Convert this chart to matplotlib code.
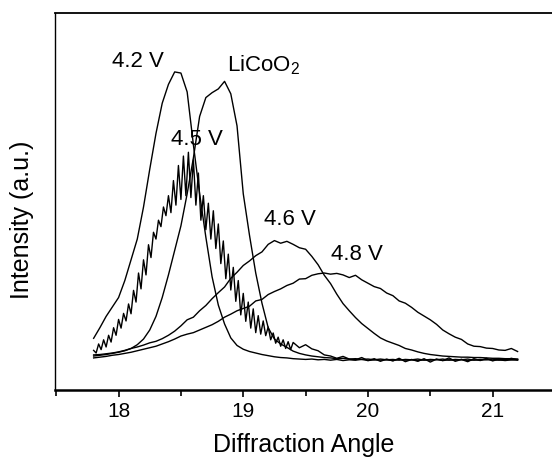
import matplotlib
matplotlib.use("Agg")
import matplotlib.pyplot as plt
from matplotlib.ticker import MultipleLocator

plt.rcParams['font.family'] = ['Liberation Sans', 'DejaVu Sans']
plt.rcParams['mathtext.fontset'] = 'custom'
plt.rcParams['mathtext.rm'] = 'Liberation Sans'

# diffraction angle grid (deg) shared by the smooth scans
angle = [17.80, 17.85, 17.90, 17.95, 18.00, 18.05, 18.10, 18.15, 18.20, 18.25,
         18.30, 18.35, 18.40, 18.45, 18.50, 18.55, 18.60, 18.65, 18.70, 18.75,
         18.80, 18.85, 18.90, 18.95, 19.00, 19.05, 19.10, 19.15, 19.20, 19.25,
         19.30, 19.35, 19.40, 19.45, 19.50, 19.55, 19.60, 19.65, 19.70, 19.75,
         19.80, 19.85, 19.90, 19.95, 20.00, 20.05, 20.10, 20.15, 20.20, 20.25,
         20.30, 20.35, 20.40, 20.45, 20.50, 20.55, 20.60, 20.65, 20.70, 20.75,
         20.80, 20.85, 20.90, 20.95, 21.00, 21.05, 21.10, 21.15, 21.20]

i_42 = [13.7, 16.5, 19.5, 22.0, 24.5, 29.0, 34.5, 40.0, 48.5, 58.5,
        68.0, 76.0, 81.0, 84.3, 84.0, 79.0, 65.0, 52.0, 40.5, 30.0,
        22.5, 17.5, 13.8, 11.8, 10.8, 10.2, 9.8, 9.4, 9.1, 8.8,
        8.6, 8.5, 8.3, 8.2, 8.1, 8.2, 8.0, 8.1, 7.9, 8.1,
        7.8, 8.0, 7.9, 8.1, 7.8, 8.0, 7.9, 8.0, 7.8, 8.1,
        7.9, 8.0, 7.8, 8.0, 7.9, 8.1, 7.8, 8.0, 7.9, 8.1,
        7.8, 8.0, 7.9, 8.1, 7.9, 8.0, 7.8, 8.0, 7.9]

i_lco = [9.0, 9.2, 9.4, 9.7, 10.0, 10.4, 11.0, 12.0, 13.5, 15.9,
         19.5, 24.5, 30.5, 37.0, 43.5, 52.0, 61.5, 72.5, 77.5, 78.8,
         79.8, 81.8, 78.5, 70.0, 52.0, 41.0, 31.0, 23.0, 16.5, 13.5,
         12.2, 11.3, 10.3, 9.7, 9.3, 9.0, 8.8, 8.6, 8.5, 8.3,
         8.4, 8.2, 8.3, 8.1, 8.2, 8.0, 8.2, 8.0, 8.1, 7.9,
         8.1, 8.0, 8.2, 7.9, 8.1, 8.0, 8.2, 7.9, 8.1, 8.0,
         8.2, 7.9, 8.1, 8.0, 8.2, 7.9, 8.1, 8.0, 8.1]

i_46 = [9.3, 9.4, 9.6, 9.8, 10.1, 10.5, 11.0, 11.4, 11.9, 12.5,
        12.9, 13.6, 14.5, 15.6, 17.0, 18.6, 19.3, 21.0, 22.4, 24.2,
        25.8, 27.3, 29.6, 31.2, 33.0, 34.2, 35.6, 36.6, 38.6, 39.6,
        38.9, 39.4, 38.6, 37.7, 37.3, 35.4, 33.2, 30.4, 28.2, 25.4,
        22.9, 21.0, 19.2, 17.6, 16.3, 15.0, 13.8, 13.0, 12.4, 11.8,
        11.0, 10.6, 10.1, 9.7, 9.4, 9.2, 9.0, 8.9, 8.8, 8.7,
        8.7, 8.6, 8.6, 8.5, 8.4, 8.4, 8.3, 8.3, 8.2]

i_48 = [8.5, 8.7, 8.9, 9.2, 9.4, 9.7, 10.0, 10.4, 10.8, 11.2,
        11.6, 12.2, 12.8, 13.5, 14.3, 14.8, 15.2, 15.9, 16.6, 17.3,
        18.2, 19.3, 20.1, 21.0, 21.6, 22.2, 23.6, 24.0, 25.3, 26.1,
        26.8, 27.7, 28.3, 29.4, 29.5, 30.4, 30.8, 31.0, 30.7, 30.9,
        30.5, 29.8, 30.4, 29.2, 28.3, 27.4, 26.9, 25.7, 25.0, 23.6,
        23.0, 21.9, 20.6, 19.6, 18.6, 17.4, 15.9, 14.9, 14.0, 13.4,
        12.2, 11.6, 11.5, 11.1, 11.0, 10.6, 10.5, 11.0, 10.2]

# the 4.5 V scan is much noisier, read on a finer grid
angle_45 = [17.80, 17.82, 17.84, 17.86, 17.88, 17.90, 17.92, 17.94, 17.96, 17.98,
            18.00, 18.02, 18.04, 18.06, 18.08, 18.10, 18.12, 18.14, 18.16, 18.18,
            18.20, 18.22, 18.24, 18.26, 18.28, 18.30, 18.32, 18.34, 18.36, 18.38,
            18.40, 18.42, 18.44, 18.46, 18.48, 18.50, 18.52, 18.54, 18.56, 18.58,
            18.60, 18.62, 18.64, 18.66, 18.68, 18.70, 18.72, 18.74, 18.76, 18.78,
            18.80, 18.82, 18.84, 18.86, 18.88, 18.90, 18.92, 18.94, 18.96, 18.98,
            19.00, 19.02, 19.04, 19.06, 19.08, 19.10, 19.12, 19.14, 19.16, 19.18,
            19.20, 19.22, 19.24, 19.26, 19.28, 19.30, 19.32, 19.34, 19.36, 19.38,
            19.40, 19.45, 19.50, 19.55, 19.60, 19.65, 19.70, 19.75, 19.80, 19.85,
            19.90, 19.95, 20.00, 20.05, 20.10, 20.15, 20.20, 20.25, 20.30, 20.35,
            20.40, 20.45, 20.50, 20.55, 20.60, 20.65, 20.70, 20.75, 20.80, 20.85,
            20.90, 20.95, 21.00, 21.05, 21.10, 21.15, 21.20]

i_45 = [10.5, 9.8, 12.2, 10.7, 13.3, 11.4, 14.5, 12.7, 16.5, 14.5,
        18.7, 16.4, 20.3, 18.3, 22.8, 20.2, 26.4, 23.3, 31.0, 26.8,
        34.5, 30.5, 38.5, 35.1, 41.8, 40.0, 45.0, 43.3, 48.5, 46.2,
        51.5, 47.0, 55.5, 49.0, 59.5, 50.5, 62.0, 51.5, 63.0, 51.0,
        61.0, 49.0, 57.5, 45.0, 51.5, 42.5, 49.5, 40.0, 47.5, 37.5,
        44.0, 33.5, 39.5, 29.5, 36.0, 26.5, 32.5, 23.5, 29.0, 19.9,
        25.6, 18.2, 23.3, 16.4, 21.5, 15.2, 19.7, 14.8, 18.3, 14.4,
        16.7, 13.3, 15.1, 12.4, 14.0, 11.6, 13.3, 11.0, 12.8, 10.7,
        12.6, 11.2, 12.0, 10.9, 10.4, 9.3, 9.0, 8.4, 8.9, 8.2,
        8.0, 8.6, 7.8, 8.3, 7.6, 8.2, 7.7, 8.4, 7.5, 8.1,
        7.6, 8.3, 7.4, 8.2, 7.8, 8.5, 7.6, 8.1, 7.5, 8.3,
        7.8, 8.4, 7.7, 8.2, 7.9, 8.4, 8.0]

labels = ['4.2 V', 'LiCoO$_\\mathregular{2}$', '4.5 V', '4.6 V', '4.8 V']
label_x = [17.95, 18.87, 18.42, 19.17, 19.70]
label_y = [85.7, 84.5, 65.0, 43.8, 34.5]

fig = plt.figure(figsize=(5.52, 4.58), dpi=100)
ax = fig.add_axes([0.0996, 0.1485, 0.9004, 0.8238])

for yy in [i_42, i_lco, i_46, i_48]:
    ax.plot(angle, yy, color='black', lw=1.0)
ax.plot(angle_45, i_45, color='black', lw=1.0)

for s, tx, ty in zip(labels, label_x, label_y):
    ax.text(tx, ty, s, fontsize=16, ha='left', va='baseline')

ax.set_xlim(17.49, 21.476)
ax.set_ylim(0, 100)
ax.set_xticks([18, 19, 20, 21])
ax.xaxis.set_minor_locator(MultipleLocator(0.5))
ax.set_yticks([])
ax.tick_params(axis='x', which='major', direction='out', length=5, width=1.2,
               labelsize=15, pad=4)
ax.tick_params(axis='x', which='minor', direction='out', length=4, width=1.2)

ax.spines['right'].set_visible(False)
ax.spines['bottom'].set_linewidth(1.8)
ax.spines['top'].set_linewidth(1.3)
ax.spines['left'].set_linewidth(1.0)

ax.set_xlabel('Diffraction Angle', fontsize=18, labelpad=8)
ax.set_ylabel('Intensity (a.u.)', fontsize=18)
ax.yaxis.set_label_coords(-0.042, 0.45)

fig.savefig('out.png', dpi=100)
